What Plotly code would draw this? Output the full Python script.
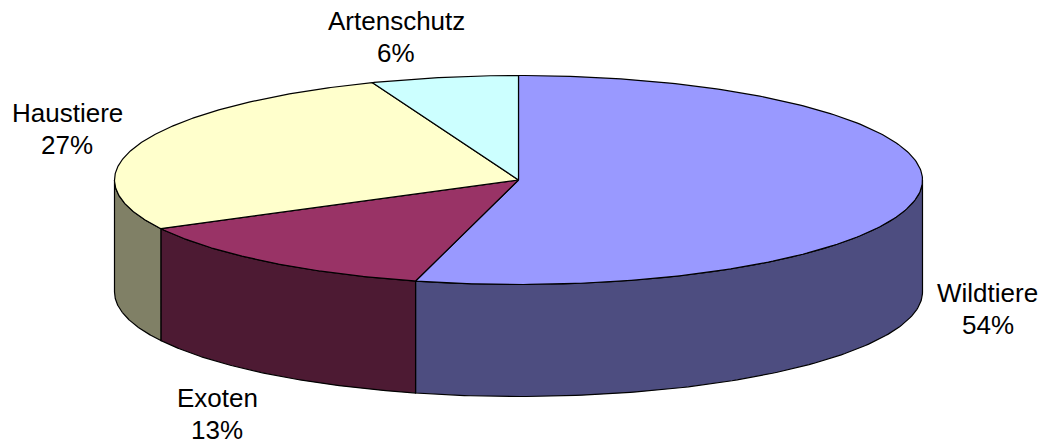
import numpy as np
import plotly.graph_objects as go

categories = ["Wildtiere", "Exoten", "Haustiere", "Artenschutz"]
values = [54.1, 13.2, 26.8, 5.9]
percent_labels = ["54%", "13%", "27%", "6%"]
top_colors = ["#9999FF", "#993366", "#FFFFCC", "#CCFFFF"]
side_colors = ["#4D4D80", "#4D1A33", "#808066", "#668080"]
label_pos = [(987.5, 309), (217, 414), (67, 129), (396, 37)]

W, H = 1045, 448
CX, CY, RX, RY, DEPTH = 518.5, 180, 404, 104.5, 112
LINE_GAP = 32


def ell(t):
    return CX + RX * np.sin(t), CY - RY * np.cos(t)


fig = go.Figure()
edges = np.concatenate([[0], np.cumsum(values)]) / sum(values) * 2 * np.pi

# side walls (front half only)
for i in range(len(values)):
    a, b = max(edges[i], np.pi / 2), min(edges[i + 1], 3 * np.pi / 2)
    if b <= a:
        continue
    t = np.linspace(a, b, 120)
    x, y = ell(t)
    px = np.concatenate([x, x[::-1], x[:1]])
    py = np.concatenate([y, (y + DEPTH)[::-1], y[:1]])
    fig.add_trace(go.Scatter(x=px, y=py, mode="lines", fill="toself", fillcolor=side_colors[i],
                             line=dict(color="black", width=1.2), hoverinfo="skip", showlegend=False))

# top face
for i in range(len(values)):
    t = np.linspace(edges[i], edges[i + 1], 240)
    x, y = ell(t)
    px = np.concatenate([[CX], x, [CX]])
    py = np.concatenate([[CY], y, [CY]])
    fig.add_trace(go.Scatter(x=px, y=py, mode="lines", fill="toself", fillcolor=top_colors[i],
                             line=dict(color="black", width=1.2), hoverinfo="skip", showlegend=False))

for c, p, (lx, ly) in zip(categories, percent_labels, label_pos):
    for text, yy in ((c, ly - LINE_GAP / 2), (p, ly + LINE_GAP / 2)):
        fig.add_annotation(x=lx, y=yy, text=text, showarrow=False, xanchor="center", yanchor="middle",
                           font=dict(family="Liberation Sans", size=26, color="black"))

fig.update_layout(width=W, height=H, margin=dict(l=0, r=0, t=0, b=0), paper_bgcolor="white", plot_bgcolor="white",
                  xaxis=dict(range=[0, W], visible=False, fixedrange=True),
                  yaxis=dict(range=[H, 0], visible=False, fixedrange=True), showlegend=False)
fig.write_html("out.html", config=dict(displayModeBar=False),
               post_script="document.body.style.margin='0';document.documentElement.style.overflow='hidden';")
